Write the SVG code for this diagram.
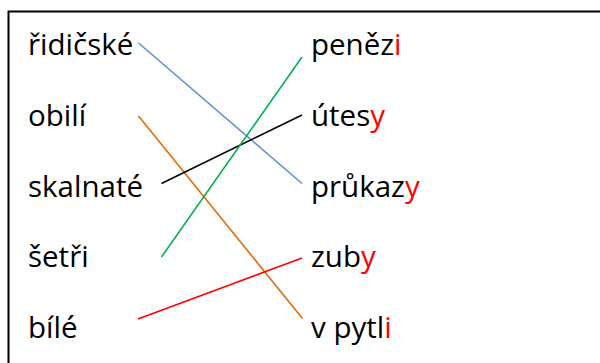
<svg xmlns="http://www.w3.org/2000/svg" width="600" height="363" viewBox="0 0 600 363">
  <style>
    .t { font-family: "Open Sans", "Noto Sans", "DejaVu Sans", sans-serif; font-size: 29.5px; fill: #000000; }
    .r { fill: #FF0000; }
    .c { stroke-width: 1.6; fill: none; stroke-linecap: butt; }
  </style>
  <rect x="0" y="0" width="600" height="363" fill="#ffffff"/>
  <rect id="frame" x="8.5" y="11.5" width="620" height="400" fill="none" stroke="#000000" stroke-width="2"/>
  <g id="connectors">
    <line class="c" x1="138.5" y1="43" x2="302" y2="183.5" stroke="#5B8ED6"/>
    <line class="c" x1="138.5" y1="116" x2="302.5" y2="318.5" stroke="#E36C0A"/>
    <line class="c" x1="161.5" y1="183.5" x2="302" y2="115" stroke="#000000"/>
    <line class="c" x1="161.5" y1="257" x2="302" y2="57" stroke="#00B050"/>
    <line class="c" x1="138" y1="319" x2="302" y2="258" stroke="#FF0000"/>
  </g>
  <g id="left-1"><text class="t" x="28" y="55">řidičské</text></g>
  <g id="left-2"><text class="t" x="28" y="126">obilí</text></g>
  <g id="left-3"><text class="t" x="28" y="197">skalnaté</text></g>
  <g id="left-4"><text class="t" x="28" y="267">šetři</text></g>
  <g id="left-5"><text class="t" x="28" y="338">bílé</text></g>
  <g id="right-1"><text class="t" x="311" y="55">peněz<tspan class="r">i</tspan></text></g>
  <g id="right-2"><text class="t" x="311" y="126">útes<tspan class="r">y</tspan></text></g>
  <g id="right-3"><text class="t" x="311" y="197">průkaz<tspan class="r">y</tspan></text></g>
  <g id="right-4"><text class="t" x="311" y="267">zub<tspan class="r">y</tspan></text></g>
  <g id="right-5"><text class="t" x="311" y="338">v pytl<tspan class="r">i</tspan></text></g>
</svg>
